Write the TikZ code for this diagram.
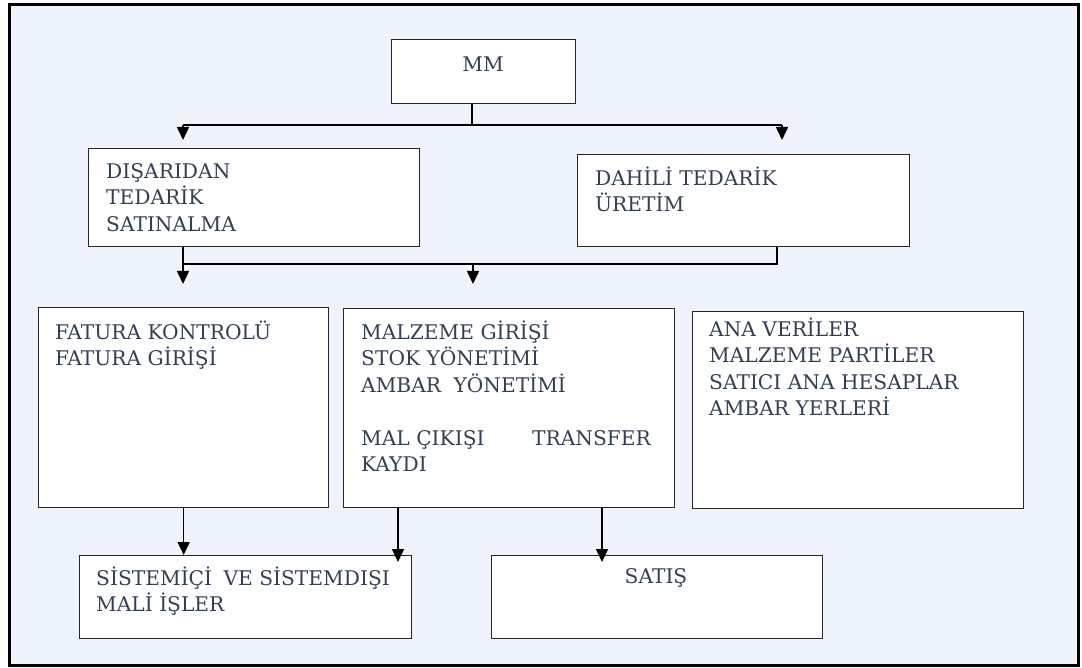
\documentclass[tikz,border=0pt]{standalone}
\usepackage{fontspec}
\setmainfont{DejaVu Serif}
\usetikzlibrary{arrows.meta}
\definecolor{panel}{HTML}{EFF3FB}
\definecolor{ink}{HTML}{334052}
\definecolor{edge}{HTML}{262626}
% fixed-height strut so every first line has the same top
\newcommand{\tallstrut}{\rule{0pt}{24pt}}
\begin{document}
\begin{tikzpicture}[x=1pt,y=-1pt,
  box/.style={draw=edge, line width=1.3pt, fill=white, inner sep=0pt,
    anchor=north west},
  txt/.style={inner sep=0pt, anchor=north west, align=left, text=ink,
    font=\fontsize{20.2}{26.5}\selectfont},
  ctxt/.style={inner sep=0pt, anchor=base, text=ink,
    font=\fontsize{20.2}{26.5}\selectfont},
  conn/.style={draw=black, line width=1.5pt},
  arr/.style={conn, -{Triangle[width=12pt,length=13pt]}}]

\useasboundingbox (0,0) rectangle (1082,668);
\fill[white] (0,0) rectangle (1082,668);
\draw[line width=3pt, fill=panel] (9,5) rectangle (1078.5,665.5);

% boxes
\node[box, minimum width=184, minimum height=64]  (mm)  at (391,39)  {};
\node[box, minimum width=331, minimum height=98]  (dis) at (88,148)  {};
\node[box, minimum width=332, minimum height=92]  (dah) at (577,154) {};
\node[box, minimum width=290, minimum height=200] (fat) at (38,307)  {};
\node[box, minimum width=331, minimum height=199] (mal) at (343,308) {};
\node[box, minimum width=331, minimum height=197] (ana) at (692,311) {};
\node[box, minimum width=332, minimum height=83]  (sis) at (79,555)  {};
\node[box, minimum width=331, minimum height=83]  (sat) at (491,555) {};

% texts
\node[ctxt] (mmt) at (483,72) {MM};
\node[txt] (dist) at (106,154) {\tallstrut DIŞARIDAN\\TEDARİK\\SATINALMA};
\node[txt] (daht) at (595,161) {\tallstrut DAHİLİ TEDARİK\\ÜRETİM};
\node[txt] (fatt) at (55,315) {\tallstrut FATURA KONTROLÜ\\FATURA GİRİŞİ};
\node[txt] (malt) at (361,315) {\tallstrut MALZEME GİRİŞİ\\STOK YÖNETİMİ\\AMBAR\kern6pt\ YÖNETİMİ\\[26.5pt]\makebox[171pt][l]{MAL ÇIKIŞI}TRANSFER\\KAYDI};
\node[txt] (anat) at (709,312) {\tallstrut ANA VERİLER\\MALZEME PARTİLER\\SATICI ANA HESAPLAR\\AMBAR YERLERİ};
\node[txt] (sist) at (96,561) {\tallstrut SİSTEMİÇİ\kern5pt\ VE SİSTEMDIŞI\\MALİ İŞLER};
\node[ctxt] (satt) at (656,583) {SATIŞ};

% first level: MM to its two branches
\coordinate (j1)  at (472,125);
\coordinate (l1)  at (183,125);
\coordinate (r1)  at (782,125);
\coordinate (l1e) at (183,140);
\coordinate (r1e) at (782,140);
\draw[conn] (mm.south -| j1) -- (j1);
\draw[conn] (l1) -- (r1);
\draw[arr] (l1) -- (l1e);
\draw[arr] (r1) -- (r1e);

% second level: both procurement boxes feed the lower row
\coordinate (l2)  at (183,264);
\coordinate (m2)  at (473,264);
\coordinate (r2)  at (777,264);
\coordinate (l2e) at (183,284);
\coordinate (m2e) at (473,284);
\draw[conn] (dis.south -| l2) -- (l2) -- (r2) -- (dah.south -| r2);
\draw[arr] (l2) -- (l2e);
\draw[arr] (m2) -- (m2e);

% third level: into finance and sales
\coordinate (a1) at (398,562);
\coordinate (a2) at (602,562);
\draw[arr] (fat.south) -- (fat.south |- sis.north);
\draw[arr] (mal.south -| a1) -- (a1);
\draw[arr] (mal.south -| a2) -- (a2);
\end{tikzpicture}
\end{document}
